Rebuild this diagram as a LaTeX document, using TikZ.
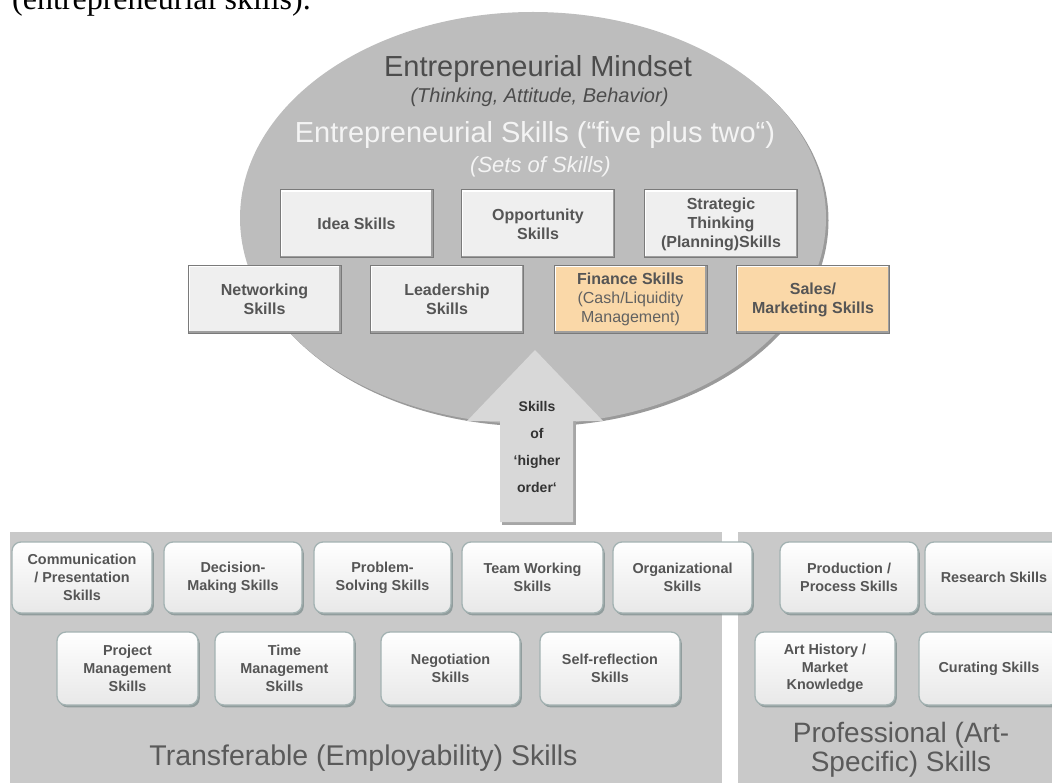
\documentclass[tikz,border=0pt]{standalone}
\usepackage{fontspec}
\setmainfont{Liberation Sans}
\newfontfamily\timesface{Liberation Serif}
\usetikzlibrary{shapes.geometric,shadows}

\definecolor{ovalgray}{HTML}{BDBDBD}
\definecolor{ovalrim}{HTML}{9A9A9A}
\definecolor{panelgray}{HTML}{C9C9C9}
\definecolor{arrowgray}{HTML}{D8D8D8}
\definecolor{arrowshade}{HTML}{A6A6A6}
\definecolor{boxfill}{HTML}{EFEFEF}
\definecolor{boxedge}{HTML}{7A7A7A}
\definecolor{boxshade}{HTML}{9E9E9E}
\definecolor{orangefill}{HTML}{FAD8A8}
\definecolor{darktext}{HTML}{4C4C4C}
\definecolor{lighttext}{HTML}{F4F4F4}
\definecolor{boxtext}{HTML}{555555}
\definecolor{softedge}{HTML}{A3B2B2}
\definecolor{softshade}{HTML}{7F8F8F}
\definecolor{softlow}{HTML}{E8E8E8}
\definecolor{paneltext}{HTML}{5A5A5A}

\tikzset{
  bevelbox/.style={rectangle, fill=#1, draw=boxedge, line width=1pt,
    minimum width=153pt, minimum height=68pt, inner sep=2pt, align=center,
    text=boxtext, font=\bfseries\fontsize{16}{19}\selectfont,
    path picture={
      \draw[white, line width=3.5pt]
        (path picture bounding box.south west) |- (path picture bounding box.north east);
      \draw[boxshade, line width=4pt]
        (path picture bounding box.south west) -| (path picture bounding box.north east);
    }},
  bevelbox/.default=boxfill,
  softbox/.style={rectangle, rounded corners=9pt, draw=softedge, line width=1.3pt,
    top color=white, bottom color=softlow,
    minimum width=139pt, minimum height=71pt, inner sep=2pt, align=center,
    text=boxtext, font=\bfseries\fontsize{14.4}{17.8}\selectfont,
    drop shadow={shadow xshift=1.8pt, shadow yshift=-2.4pt, fill=softshade, opacity=0.75}},
  panel/.style={rectangle, fill=panelgray, inner sep=0pt, anchor=north west},
}

\begin{document}
\begin{tikzpicture}[x=1pt, y=-1pt]
\useasboundingbox (0,0) rectangle (1052,783);
\clip (0,0) rectangle (1052,783);

% line of running text above the figure
\node (runtext) [anchor=base west, inner sep=0pt, font=\timesface\fontsize{32}{36}\selectfont]
  at (12,9.5) {(entrepreneurial skills).};

% the mindset oval
\node (mindset) [ellipse, fill=ovalgray, minimum width=586pt, minimum height=412pt, inner sep=0pt,
  drop shadow={shadow xshift=2.5pt, shadow yshift=-2.5pt, fill=ovalrim, opacity=1}]
  at (533,218) {};

\node (mindtitle) [anchor=base, text=darktext, font=\fontsize{29}{33}\selectfont]
  at (538,77) {Entrepreneurial Mindset};
\node (mindsub) [anchor=base, text=darktext, font=\itshape\fontsize{20}{24}\selectfont]
  at (539.5,103) {(Thinking, Attitude, Behavior)};
\node (skillstitle) [anchor=base, text=lighttext, font=\fontsize{29}{33}\selectfont]
  at (535,143) {Entrepreneurial Skills (“five plus two“)};
\node (skillssub) [anchor=base, text=lighttext, font=\itshape\fontsize{22}{26}\selectfont]
  at (540.5,172.5) {(Sets of Skills)};

% upward arrow: skills of higher order
\fill[arrowshade] (502,421) rectangle (576,525);
\fill[arrowgray] (535,350) -- (603,421) -- (573,421) -- (573,522)
  -- (500,522) -- (500,421) -- (467,421) -- cycle;
\node (higher) [align=center, text=black!80, font=\bfseries\fontsize{14}{26.7}\selectfont]
  at (537,447) {Skills\\of\\‘higher\\order‘};

% entrepreneurial skill sets
\node (idea)  [bevelbox] at (356.5,224) {Idea Skills};
\node (opp)   [bevelbox] at (538,224)   {Opportunity\\Skills};
\node (strat) [bevelbox] at (721,224)   {Strategic\\Thinking\\(Planning)Skills};
\node (net)   [bevelbox] at (264.5,299.5) {Networking\\Skills};
\node (lead)  [bevelbox] at (447,299.5)   {Leadership\\Skills};
\node (fin)   [bevelbox=orangefill] at (630.5,299.5)
  {Finance Skills\\{\mdseries\color{black!62}(Cash/Liquidity}\\{\mdseries\color{black!62}Management)}};
\node (sales) [bevelbox=orangefill] at (813,299.5) {Sales/\\Marketing Skills};

% foundation panels
\node (transpanel) [panel, minimum width=712pt, minimum height=260pt] at (10,532) {};
\node (profpanel)  [panel, minimum width=330pt, minimum height=260pt] at (738,532) {};

% transferable skills
\node (comm) [softbox, minimum width=140pt] at (82,577.5)  {Communication\\/ Presentation\\Skills};
\node (dec)  [softbox, minimum width=138pt] at (233,577.5) {Decision-\\Making Skills};
\node (prob) [softbox, minimum width=137pt] at (382.5,577.5) {Problem-\\Solving Skills};
\node (team) [softbox, minimum width=141pt] at (532.5,577.5) {Team Working\\Skills};
\node (org)  [softbox] at (682.5,577.5) {Organizational\\Skills};
\node (proj) [softbox, minimum width=141pt, minimum height=73pt] at (127.5,668.5) {Project\\Management\\Skills};
\node (time) [softbox, minimum height=73pt] at (284.5,668.5) {Time\\Management\\Skills};
\node (neg)  [softbox, minimum height=73pt] at (450.5,668.5) {Negotiation\\Skills};
\node (self) [softbox, minimum width=140pt, minimum height=73pt] at (610,668.5) {Self-reflection\\Skills};

% professional skills
\node (prod) [softbox, minimum width=138pt] at (849,577.5) {Production /\\Process Skills};
\node (res)  [softbox, minimum width=138pt] at (994,577.5) {Research Skills};
\node (art)  [softbox, minimum width=140pt, minimum height=73pt] at (825,668.5) {Art History /\\Market\\Knowledge};
\node (cur)  [softbox, minimum width=140pt, minimum height=73pt] at (989,668.5) {Curating Skills};

% panel captions
\node (translabel) [anchor=base, text=paneltext, font=\fontsize{28.5}{32}\selectfont]
  at (363.5,765.5) {Transferable (Employability) Skills};
\node (proflabel) [align=center, text=paneltext, font=\fontsize{28}{29}\selectfont]
  at (901,749.5) {Professional (Art-\\Specific) Skills};
\end{tikzpicture}
\end{document}
